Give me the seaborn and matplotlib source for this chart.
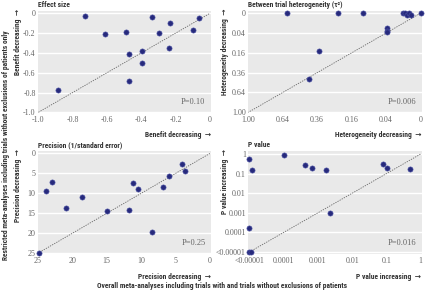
import numpy as np
import matplotlib
matplotlib.use('Agg')
import matplotlib.pyplot as plt
from matplotlib import font_manager
import seaborn as sns

# ---- data (overall x, restricted y) ----
effect_overall = [-0.728, -0.612, -0.489, -0.336, -0.235, -0.295, -0.064, -0.101,
                  -0.239, -0.474, -0.396, -0.396, -0.474, -0.883]
effect_restricted = [-0.027, -0.209, -0.185, -0.040, -0.094, -0.199, -0.050, -0.172,
                     -0.350, -0.407, -0.384, -0.498, -0.687, -0.774]

tau_overall = [0.605, 0.232, 0.111, 0.010, 0.0086, 0.0066, 0.0048, 0.0034, 0.0,
               0.038, 0.038, 0.038, 0.348, 0.42]
tau_restricted = [0.0, 0.0, 0.0, 0.0, 0.0, 0.0003, 0.0, 0.0003, 0.0,
                  0.023, 0.031, 0.037, 0.142, 0.44]

prec_overall = [24.9, 23.9, 22.9, 20.9, 18.6, 15.0, 11.7, 11.2, 10.4, 8.5, 6.8, 6.0, 4.05, 3.7]
prec_restricted = [25.0, 9.5, 7.2, 13.7, 10.8, 14.5, 14.1, 7.3, 8.9, 19.75, 8.4, 5.6, 2.75, 4.4]

p_overall = [1e-5, 1.2e-5, 1e-5, 1e-5, 1.15e-5, 1.0e-4, 4.2e-4, 6.8e-4, 1.7e-3,
             2.3e-3, 0.078, 0.106, 0.47]
p_restricted = [0.58, 0.158, 1.7e-4, 1e-5, 1e-5, 0.89, 0.27, 0.19, 0.152,
                0.001, 0.29, 0.2, 0.171]

effect_ticks = [-1.0, -0.8, -0.6, -0.4, -0.2, 0]
effect_labels = ['-1.0', '-0.8', '-0.6', '-0.4', '-0.2', '0']
tau_ticks = [0, 0.04, 0.16, 0.36, 0.64, 1.0]
tau_labels = ['0', '0.04', '0.16', '0.36', '0.64', '1.00']
prec_ticks = [0, 5, 10, 15, 20, 25]
prec_labels = ['0', '5', '10', '15', '20', '25']
p_ticks = [1e-5, 1e-4, 1e-3, 1e-2, 1e-1, 1]
p_labels = ['<0.00001', '0.0001', '0.001', '0.01', '0.1', '1']

titles = ['Effect size', 'Between trial heterogeneity (τ²)',
          'Precision (1/standard error)', 'P value']
axis_labels = ['Benefit decreasing', 'Heterogeneity decreasing',
               'Precision decreasing', 'P value increasing']
p_texts = ['P=0.10', 'P=0.006', 'P=0.25', 'P=0.016']

# ---- style ----
sns.set_style('darkgrid', {'axes.facecolor': '#e9e9e9', 'grid.color': 'white'})
plt.rcParams['font.family'] = ['DejaVu Sans']
serif = ['Liberation Serif', 'DejaVu Serif']


# pick a condensed bold sans for the labels, if one is installed
def is_bold(f):
    w = f.weight
    if isinstance(w, str):
        w = font_manager.weight_dict.get(w, 400)
    return w >= 600


bold_names = {f.name for f in font_manager.fontManager.ttflist if is_bold(f)}
bold = ['DejaVu Sans']
bsize = 4.4
for cand in ['Roboto Condensed', 'Open Sans Condensed', 'Liberation Sans Narrow']:
    if cand in bold_names:
        bold = [cand, 'DejaVu Sans']
        bsize = 5.4
        break

dot_color = '#272a7c'

fig = plt.figure(figsize=(4.25, 2.91), dpi=100)
W, H = 425, 291


def make_axes(left, top, right, bottom):
    return fig.add_axes([left / W, 1 - bottom / H, (right - left) / W, (bottom - top) / H])


ax1 = make_axes(37.7, 11, 210.7, 113)
ax2 = make_axes(248, 11, 421.5, 113)
ax3 = make_axes(37.7, 151, 210.7, 254)
ax4 = make_axes(248, 151, 421.5, 254)


def ssqrt(v):
    v = np.asarray(v, dtype=float)
    return np.sign(v) * np.sqrt(np.abs(v))


def ssq(v):
    v = np.asarray(v, dtype=float)
    return v * np.abs(v)


ax2.set_xscale('function', functions=(ssqrt, ssq))
ax2.set_yscale('function', functions=(ssqrt, ssq))
ax4.set_xscale('log')
ax4.set_yscale('log')

panels = [
    (ax1, effect_overall, effect_restricted, effect_ticks, effect_labels),
    (ax2, tau_overall, tau_restricted, tau_ticks, tau_labels),
    (ax3, prec_overall, prec_restricted, prec_ticks, prec_labels),
    (ax4, p_overall, p_restricted, p_ticks, p_labels),
]

for i, (ax, xv, yv, ticks, labels) in enumerate(panels):
    # dotted line of identity
    ax.plot([ticks[0], ticks[-1]], [ticks[0], ticks[-1]], ls=(0, (1.6, 1.3)),
            color='#6a6a6a', lw=0.6, zorder=2)
    sns.scatterplot(x=xv, y=yv, ax=ax, color=dot_color, s=14, edgecolor='#4d54a6',
                    linewidth=0.4, zorder=3, clip_on=False)
    ax.set_xticks(ticks)
    ax.set_xticklabels(labels)
    ax.set_yticks(ticks)
    ax.set_yticklabels(labels)
    ax.grid(axis='x', visible=False)
    ax.grid(axis='y', color='white', lw=1.0)
    ax.minorticks_off()
    ax.tick_params(length=0, labelsize=5.8, labelcolor='#666666')
    ax.tick_params(axis='x', pad=2.2)
    ax.tick_params(axis='y', pad=1.5)
    for lab in ax.get_xticklabels() + ax.get_yticklabels():
        lab.set_family(serif)
    for s in ax.spines.values():
        s.set_visible(False)
    ax.text(0.0, 1.015, titles[i], transform=ax.transAxes, ha='left', va='bottom',
            fontsize=bsize, fontweight='bold', color='#333333', family=bold)
    ax.text(0.97, 0.07, p_texts[i], transform=ax.transAxes, ha='right', va='bottom',
            fontsize=6, color='#666666', family=serif)
    ax.set_xlabel(axis_labels[i] + '  →', fontsize=bsize, fontweight='bold',
                  color='#333333', family=bold)
    ax.xaxis.set_label_coords(1.0, -0.18)
    ax.xaxis.label.set_ha('right')
    ax.set_ylabel(axis_labels[i] + '  →', fontsize=bsize, fontweight='bold',
                  color='#333333', family=bold)
    ax.yaxis.set_label_coords(-0.115 if i % 2 == 0 else -0.135, 1.02)
    ax.yaxis.label.set_ha('right')
    ax.yaxis.label.set_va('center')

# axis ranges (reversed where the reference counts downwards)
ax1.set_xlim(-1.004, 0.004)
ax1.set_ylim(-1.007, 0.023)
ax2.set_xlim(1.003, -0.00003)
ax2.set_ylim(1.014, -0.0005)
ax3.set_xlim(25.04, -0.1)
ax3.set_ylim(25.2, -0.6)
ax4.set_xlim(10 ** -5.04, 10 ** 0.02)
ax4.set_ylim(10 ** -5.1, 10 ** 0.15)

fig.text(222 / W, 1 - 286 / H,
         'Overall meta-analyses including trials with and trials without exclusions of patients',
         ha='center', va='center', fontsize=bsize, fontweight='bold', color='#333333',
         family=bold)
fig.text(6 / W, 1 - 145 / H,
         'Restricted meta-analyses including trials without exclusions of patients only',
         ha='center', va='center', rotation=90, fontsize=bsize, fontweight='bold',
         color='#333333', family=bold)

fig.savefig('out.png', dpi=100)
